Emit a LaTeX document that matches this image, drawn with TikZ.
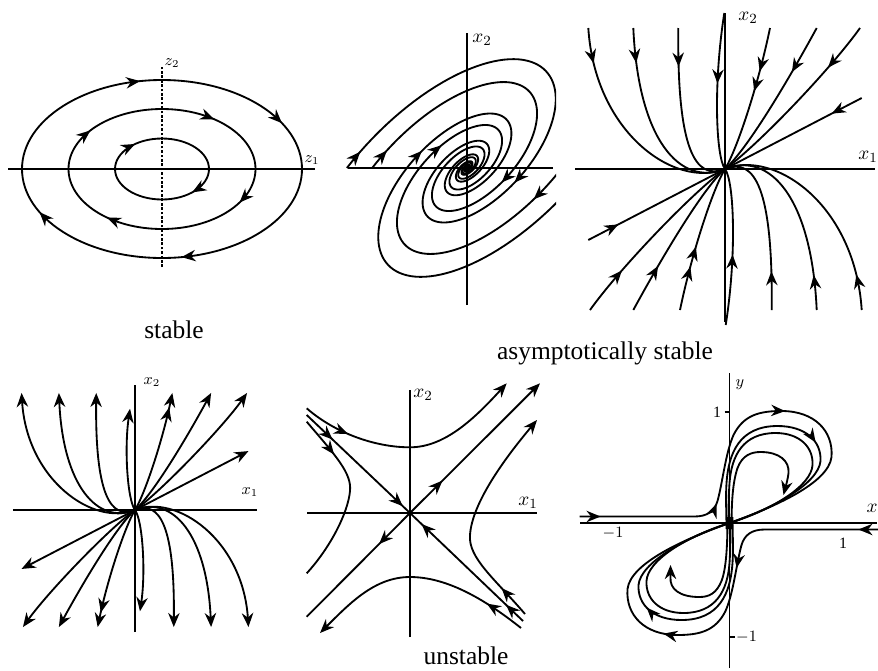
\documentclass[tikz,border=0pt]{standalone}
\usepackage{fontspec}
\setmainfont{Liberation Serif}
\usetikzlibrary{arrows.meta,decorations.markings}
\newcommand\spirx[2]{#1*exp(-0.00385*#2)*0.7071*(cos(116.565-#2)-0.5*sin(116.565-#2))}
\newcommand\spiry[2]{#1*exp(-0.00385*#2)*0.7071*(cos(116.565-#2)+0.5*sin(116.565-#2))}
\newcommand\earr[3]{\draw[traj,tipa] ({#1*cos(#3+4)},{#2*sin(#3+4)}) -- ({#1*cos(#3)},{#2*sin(#3)});}
\tikzset{
  arrtip/.tip={Stealth[length=8pt,width=6.5pt,inset=2.6pt]},
  traj/.style={line width=1.05pt, line join=round},
  axisl/.style={line width=0.8pt},
  tipa/.style={-arrtip},
  tipb/.style={arrtip-},
  am/.style={postaction={decorate},decoration={markings,mark=at position #1 with {\arrow{arrtip}}}},
  amm/.style n args={2}{postaction={decorate},decoration={markings,
     mark=at position #1 with {\arrow{arrtip}},
     mark=at position #2 with {\arrow{arrtip}}}},
  amt/.style n args={3}{postaction={decorate},decoration={markings,
     mark=at position #1 with {\arrow{arrtip}},
     mark=at position #2 with {\arrow{arrtip}},
     mark=at position #3 with {\arrow{arrtip}}}},
  amr/.style={postaction={decorate},decoration={markings,mark=at position #1 with {\arrowreversed{arrtip}}}},
  lab/.style={font=\fontsize{14.5}{17}\selectfont, inner sep=0pt},
  axl/.style={font=\fontsize{11}{13}\selectfont, inner sep=0pt},
  axs/.style={font=\fontsize{9}{11}\selectfont, inner sep=0pt},
}
\begin{document}
\begin{tikzpicture}[x=0.02cm,y=-0.02cm]
\useasboundingbox (0,0) rectangle (878,670);
\fill[white] (0,0) rectangle (878,670);

% ---------------- panel 1: centre (stable)
\begin{scope}[shift={(162,169)},yscale=-1]
  \draw[axisl] (-154,0) -- (153,0);
  \draw[axisl,dash pattern=on 1.5pt off 1pt] (0,-98) -- (0,102);
  \draw[traj] (0,0) ellipse [x radius=140,y radius=89];
  \draw[traj] (0,0) ellipse [x radius=93.5,y radius=60];
  \draw[traj] (0,0) ellipse [x radius=47,y radius=30.5];
  \earr{140}{89}{99}
  \earr{140}{89}{31}
  \earr{140}{89}{278}
  \earr{140}{89}{209}
  \earr{93.5}{60}{140}
  \earr{93.5}{60}{56}
  \earr{93.5}{60}{326}
  \earr{93.5}{60}{234}
  \earr{47}{30.5}{125}
  \earr{47}{30.5}{310}
  \node[axs] (p1z1) at (150,9) {$z_1$};
  \node[axs] (p1z2) at (10,106) {$z_2$};
\end{scope}

% ---------------- panel 2: focus
\begin{scope}[shift={(467,168)},yscale=-1]
  \draw[axisl] (-119,0) -- (86,0);
  \draw[axisl] (0,-137) -- (0,135);
  \begin{scope}
    \clip (-122,-140) rectangle (89,137);
    \draw[traj,am=12pt] plot[domain=0:180,samples=61,variable=\t] ({\spirx{190}{\t}},{\spiry{190}{\t}});
    \draw[traj,am=13pt] plot[domain=0:180,samples=61,variable=\t] ({\spirx{150}{\t}},{\spiry{150}{\t}});
    \draw[traj] plot[domain=0:180,samples=61,variable=\t] ({\spirx{-190}{\t}},{\spiry{-190}{\t}});
    \draw[traj,am=24pt] plot[domain=0:180,samples=61,variable=\t] ({\spirx{-150}{\t}},{\spiry{-150}{\t}});
    \draw[traj,am=11pt] plot[domain=180:1700,samples=507,variable=\t] ({\spirx{190}{\t}},{\spiry{190}{\t}});
    \draw[traj,am=11pt] plot[domain=180:1700,samples=507,variable=\t] ({\spirx{150}{\t}},{\spiry{150}{\t}});
    \draw[traj,am=13pt] plot[domain=180:1700,samples=507,variable=\t] ({\spirx{-190}{\t}},{\spiry{-190}{\t}});
    \draw[traj,am=18pt] plot[domain=180:1700,samples=507,variable=\t] ({\spirx{-150}{\t}},{\spiry{-150}{\t}});
  \end{scope}
  \node[axl] (p2x2) at (15,128) {$x_2$};
\end{scope}

% ---------------- panel 3: stable node
\begin{scope}[shift={(725,169)},yscale=-1]
  \draw[axisl] (-150,0) -- (150,0);
  \draw[axisl] (0,-153) -- (0,156);
  \foreach \r in {0,180}{
    \begin{scope}[rotate=\r]
      \draw[traj,am=0.16] (-136.7,141) .. controls (-130,36) and (-50,-20) .. (0,0);
      \draw[traj,am=0.18] (-91.7,141) .. controls (-86.7,29) and (-45,-18) .. (0,0);
      \draw[traj,am=0.23] (-46.7,141) .. controls (-48,20) and (-30,-12) .. (0,0);
      \draw[traj,am=0.45] (-0.7,156) .. controls (-11.7,86) and (-9.3,12.7) .. (0,0);
      \draw[traj,amm={0.3}{0.44}] (45,141) .. controls (33,83) and (11.7,19) .. (0,0);
      \draw[traj,am=0.3] (91.7,141) .. controls (61.7,86) and (21.7,19) .. (0,0);
      \draw[traj,am=0.26] (135,141) .. controls (105,99) and (31.7,22.7) .. (0,0);
      \draw[traj,am=0.22] (136.7,71) -- (0,0);
    \end{scope}}
  \node[axl] (p3x2) at (23,151) {$x_2$};
  \node[axl] (p3x1) at (143,12) {$x_1$};
\end{scope}

% ---------------- panel 4: unstable node
\begin{scope}[shift={(135,510)},yscale=-1,scale=0.83]
  \draw[axisl] (-147,0) -- (147,0);
  \draw[axisl] (0,-147) -- (0,151);
  \foreach \r in {0,180}{
    \begin{scope}[rotate=\r]
      \draw[traj,tipb] (-136.7,141) .. controls (-130,36) and (-50,-20) .. (0,0);
      \draw[traj,tipb] (-91.7,141) .. controls (-86.7,29) and (-45,-18) .. (0,0);
      \draw[traj,tipb] (-46.7,141) .. controls (-48,20) and (-30,-12) .. (0,0);
      \draw[traj,tipb] (-6,122) .. controls (-13,75) and (-9.3,12.7) .. (0,0);
      \draw[traj,tipb,amr=0.12] (45,141) .. controls (33,83) and (11.7,19) .. (0,0);
      \draw[traj,tipb] (91.7,141) .. controls (61.7,86) and (21.7,19) .. (0,0);
      \draw[traj,tipb] (135,141) .. controls (105,99) and (31.7,22.7) .. (0,0);
      \draw[traj,tipb] (136.7,71) -- (0,0);
    \end{scope}}
\end{scope}
\node[axs] (p4x2) at (152,382) {$x_2$};
\node[axs] (p4x1) at (250,492) {$x_1$};

% ---------------- panel 5: saddle
\begin{scope}[shift={(410,513)},yscale=-1]
  \draw[axisl] (-103,0) -- (127,0);
  \draw[axisl] (0,-124) -- (0,123);
  \draw[traj,tipa,am=0.21] (-103.3,104.7) .. controls (-75,80) and (-35,65.7) .. (0,65.7) .. controls (35,65.7) and (65,95) .. (96.7,129.7);
  \draw[traj,tipa,am=0.18] (111,-115) .. controls (72,-84) and (35,-64) .. (0,-64) .. controls (-35,-64) and (-60,-90) .. (-90,-120);
  \draw[traj,am=0.24] (-103.3,91.3) .. controls (-75,58) and (-58,40) .. (-60,22) .. controls (-62,0) and (-80,-35) .. (-103.3,-60.3);
  \draw[traj,tipa,am=0.15] (115,-101) .. controls (85,-66) and (58,-45) .. (60,-22) .. controls (62,10) and (95,55) .. (127,93);
  \draw[traj,amm={0.25}{0.93}] (-103.3,98) -- (0,0);
  \draw[traj,amm={0.15}{0.9}] (113,-108) -- (0,0);
  \draw[traj,tipa,am=0.25] (0,0) -- (130,129.7);
  \draw[traj,am=0.3] (0,0) -- (-103.3,-103.7);
  \node[axl] (p5x2) at (13,118) {$x_2$};
  \node[axl] (p5x1) at (118,10) {$x_1$};
\end{scope}

% ---------------- panel 6: figure eight
\begin{scope}[shift={(729.5,523)},yscale=-1]
  \draw[axisl] (-149.5,0) -- (147.5,0);
  \draw[axisl] (0,-145) -- (0,150);
  \draw[axisl] (-5,111) -- (0,111);
  \draw[axisl] (0,-114) -- (5,-114);
  % upper loop
  \draw[traj,amt={12pt}{81pt}{156pt}] (-150,6.5) -- (-35,6.5) .. controls (-22,6.5) and (-15,12) .. (-12,22) .. controls (-7,40) and (-4,70) .. (4,88) .. controls (14,108) and (30,112) .. (52,112) .. controls (85,112) and (104,92) .. (102,66) .. controls (99,40) and (45,16) .. (0,0);
  \draw[traj,am=100pt] (-3,-6) .. controls (-3,10) and (-4,25) .. (-3,40) .. controls (-1,70) and (10,97) .. (48,97) .. controls (76,97) and (92,82) .. (91,62) .. controls (89,40) and (45,15) .. (0,0);
  \draw[traj] (-1,-6) .. controls (-1,10) and (-1,25) .. (0,40) .. controls (2,68) and (14,90) .. (46,90) .. controls (70,90) and (84,76) .. (83,58) .. controls (82,38) and (45,14) .. (0,0);
  \draw[traj,tipa] (2,-6) .. controls (2,20) and (3,40) .. (8,55) .. controls (13,68) and (22,71) .. (31,71) .. controls (50,71) and (60,62) .. (59,50) .. controls (58,42) and (56,36) .. (54,28);
  % lower loop
  \begin{scope}[rotate=180]
    \draw[traj,amt={12pt}{96pt}{162pt}] (-150,6.5) -- (-35,6.5) .. controls (-22,6.5) and (-15,12) .. (-12,22) .. controls (-7,40) and (-4,70) .. (4,88) .. controls (14,108) and (30,112) .. (52,112) .. controls (85,112) and (104,92) .. (102,66) .. controls (99,40) and (45,16) .. (0,0);
    \draw[traj,am=97pt] (-3,-6) .. controls (-3,10) and (-4,25) .. (-3,40) .. controls (-1,70) and (10,97) .. (48,97) .. controls (76,97) and (92,82) .. (91,62) .. controls (89,40) and (45,15) .. (0,0);
    \draw[traj] (-1,-6) .. controls (-1,10) and (-1,25) .. (0,40) .. controls (2,68) and (14,90) .. (46,90) .. controls (70,90) and (84,76) .. (83,58) .. controls (82,38) and (45,14) .. (0,0);
    \draw[traj,tipa] (2,-6) .. controls (2,20) and (3,45) .. (8,58) .. controls (13,70) and (20,74) .. (30,74) .. controls (50,74) and (60,66) .. (59,54) .. controls (59,50) and (59,47) .. (59,42);
  \end{scope}
  \node[axs] (p6y1) at (-12.5,111) {1};
  \node[axs] (p6xm) at (-116.5,-10) {$-1$};
  \node[axs] (p6x1) at (113.5,-20) {1};
  \node[axs] (p6ym) at (17,-114) {$-1$};
  \node[axs] (p6y) at (10.5,138) {$y$};
  \node[axl] (p6x) at (142.5,15) {$x$};
\end{scope}

% ---------------- captions
\node[lab] (cap1) at (174,330) {stable};
\node[lab] (cap2) at (605,353) {asymptotically stable};
\node[lab] (cap3) at (466,656) {unstable};
\end{tikzpicture}
\end{document}
